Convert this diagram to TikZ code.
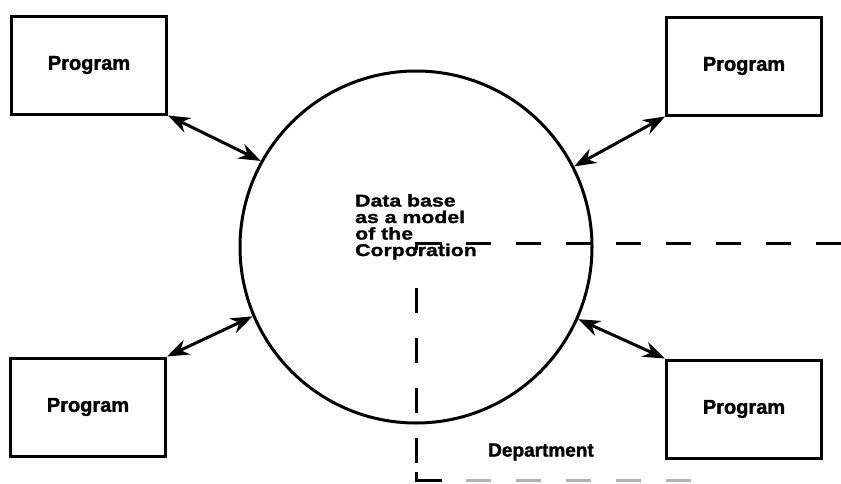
\documentclass[tikz,border=0pt]{standalone}
\usepackage{fontspec}
\setmainfont{Liberation Sans}[BoldFeatures={FakeBold=1.5}]
\newfontfamily\widefont{Liberation Sans}[FakeStretch=1.25, BoldFeatures={FakeBold=1.5}]
\usepackage{tikz}
\usetikzlibrary{arrows.meta, positioning, calc}

\begin{document}
\begin{tikzpicture}[
  x=1pt, y=-1pt,
  prog/.style={draw, line width=3pt, minimum width=155pt, minimum height=98pt,
    inner sep=0pt, font=\fontsize{20}{22}\selectfont\bfseries},
  arr/.style={{Stealth[length=22pt, width=16pt]}-{Stealth[length=22pt, width=16pt]}, line width=3pt},
  bound/.style={dash pattern=on 25pt off 25pt, line width=3pt},
  edge/.style={line width=3pt}
]
  \useasboundingbox (0,0) rectangle (841,483);

  % Data base
  \node[circle, draw, line width=3pt, minimum size=352pt, inner sep=0pt] (db) at (416,247) {};
  \node[anchor=north west, inner sep=0pt, align=left,
    font=\widefont\fontsize{17}{16.5}\selectfont\bfseries] (dbtext) at (355,194)
    {Data base\\as a model\\of the\\Corporation};

  % Programs
  \node[prog] (p1) at (89,65) {Program};
  \node[prog] (p2) at (744,66) {Program};
  \node[prog] (p3) at (88,407) {Program};
  \node[prog] (p4) at (744,409) {Program};

  \draw[arr] (p1.south east) -- (db.151.7);
  \draw[arr] (p2.south west) -- (db.27.8);
  \draw[arr] (p3.north east) -- (db.203.5);
  \draw[arr] (p4.north west) -- (db.336);

  % Department boundary
  \coordinate (c1) at (841,243);
  \coordinate (c2) at (416,243);
  \coordinate (c3) at (416,480);
  \coordinate (c4) at (700,480);
  \draw[edge] ($(c2)+(0,7)$) -- (c2) -- ($(c2)+(26,0)$);
  \draw[bound] ($(c2)+(50,0)$) -- (c1);
  \draw[bound] ($(c2)+(0,45)$) -- ($(c3)+(0,-8)$);
  \draw[edge] ($(c3)+(0,-8)$) -- (c3) -- ($(c3)+(26,0)$);
  \draw[bound, gray!60] ($(c3)+(50,0)$) -- (c4);
  \node[font=\fontsize{19}{21}\selectfont\bfseries] (dept) at (541,452) {Department};
\end{tikzpicture}
\end{document}
